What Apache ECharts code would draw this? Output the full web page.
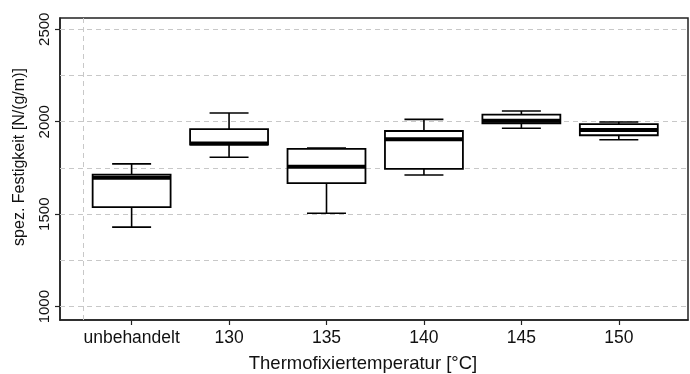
<!DOCTYPE html>
<html>
<head>
<meta charset="utf-8">
<title>Festigkeit</title>
<script src="https://cdn.jsdelivr.net/npm/echarts@6/dist/echarts.min.js"></script>
<style>
  html, body { margin: 0; padding: 0; background: #fff; }
  #chart { width: 690px; height: 374px; }
</style>
</head>
<body>
<div id="chart"></div>
<script>
var categories = ['unbehandelt', '130', '135', '140', '145', '150']
var whiskerLow = [1430, 1808, 1505, 1712, 1965, 1903]
var q1 = [1538, 1876, 1668, 1745, 1992, 1927]
var median = [1697, 1883, 1757, 1905, 2006, 1956]
var q3 = [1714, 1960, 1853, 1950, 2038, 1987]
var whiskerHigh = [1772, 2047, 1858, 2013, 2058, 1999]
var yLabelTicks = [1000, 1500, 2000, 2500]
var yGridLines = [1000, 1250, 1500, 1750, 2000, 2250, 2500]

var chart = echarts.init(document.getElementById('chart'))

var boxData = categories.map(function (c, i) {
  return [i + 1, whiskerLow[i], q1[i], median[i], q3[i], whiskerHigh[i]]
})
var catPos = categories.map(function (c, i) { return i + 1 })

var font = 'Liberation Sans, Arial, sans-serif'
var stroke = { stroke: '#000', lineWidth: 1.6, fill: null }

function renderBox (params, api) {
  var x = api.value(0)
  var pLow = api.coord([x, api.value(1)])
  var pQ1 = api.coord([x, api.value(2)])
  var pMed = api.coord([x, api.value(3)])
  var pQ3 = api.coord([x, api.value(4)])
  var pHigh = api.coord([x, api.value(5)])
  var half = api.size([0.8, 0])[0] / 2
  var cap = half / 2
  var cx = pMed[0]
  return {
    type: 'group',
    children: [
      { type: 'line', shape: { x1: cx, y1: pHigh[1], x2: cx, y2: pQ3[1] }, style: stroke },
      { type: 'line', shape: { x1: cx - cap, y1: pHigh[1], x2: cx + cap, y2: pHigh[1] }, style: stroke },
      { type: 'line', shape: { x1: cx, y1: pLow[1], x2: cx, y2: pQ1[1] }, style: stroke },
      { type: 'line', shape: { x1: cx - cap, y1: pLow[1], x2: cx + cap, y2: pLow[1] }, style: stroke },
      { type: 'rect', shape: { x: cx - half, y: pQ3[1], width: half * 2, height: pQ1[1] - pQ3[1] }, style: { stroke: '#000', lineWidth: 1.8, fill: '#fff' } },
      { type: 'line', shape: { x1: cx - half, y1: pMed[1], x2: cx + half, y2: pMed[1] }, style: { stroke: '#000', lineWidth: 4 } }
    ]
  }
}

chart.setOption({
  animation: false,
  backgroundColor: '#fff',
  grid: {
    left: 60,
    right: 2,
    top: 18,
    bottom: 54,
    outerBoundsMode: 'none',
    show: true,
    borderColor: '#222',
    borderWidth: 1.5
  },
  xAxis: {
    type: 'value',
    min: 0.265,
    max: 6.71,
    name: 'Thermofixiertemperatur [°C]',
    nameLocation: 'middle',
    nameGap: 34,
    nameTextStyle: { fontFamily: font, fontSize: 18.5, color: '#111', padding: [0, 22, 0, 0] },
    axisLine: { show: true, lineStyle: { color: '#222', width: 1.5 } },
    axisTick: { show: true, customValues: catPos, length: 5, lineStyle: { color: '#222', width: 1.2 } },
    axisLabel: {
      customValues: catPos,
      fontFamily: font,
      fontSize: 17.5,
      color: '#111',
      margin: 9,
      formatter: function (v) { return categories[Math.round(v) - 1] }
    },
    splitLine: { show: false }
  },
  yAxis: {
    type: 'value',
    min: 928,
    max: 2561,
    name: 'spez. Festigkeit [N/(g/m)]',
    nameLocation: 'middle',
    nameGap: 32,
    nameTextStyle: { fontFamily: font, fontSize: 16, color: '#111', padding: [0, 0, 0, 24] },
    axisLine: { show: true, lineStyle: { color: '#222', width: 1.5 } },
    axisTick: { show: true, customValues: yLabelTicks, length: 5, lineStyle: { color: '#222', width: 1.2 } },
    axisLabel: {
      customValues: yLabelTicks,
      rotate: 90,
      fontFamily: font,
      fontSize: 15,
      color: '#111',
      margin: 8,
      formatter: function (v) { return String(v) }
    },
    splitLine: { show: false }
  },
  series: [
    {
      type: 'line',
      data: [],
      silent: true,
      markLine: {
        silent: true,
        symbol: 'none',
        label: { show: false },
        lineStyle: { color: '#c8c8c8', type: [5, 4], width: 1 },
        data: yGridLines.map(function (v) { return { yAxis: v } }).concat([{ xAxis: 0.5 }])
      }
    },
    {
      type: 'custom',
      renderItem: renderBox,
      data: boxData,
      encode: { x: 0, y: [1, 2, 3, 4, 5] },
      z: 5
    }
  ]
})
</script>
</body>
</html>
